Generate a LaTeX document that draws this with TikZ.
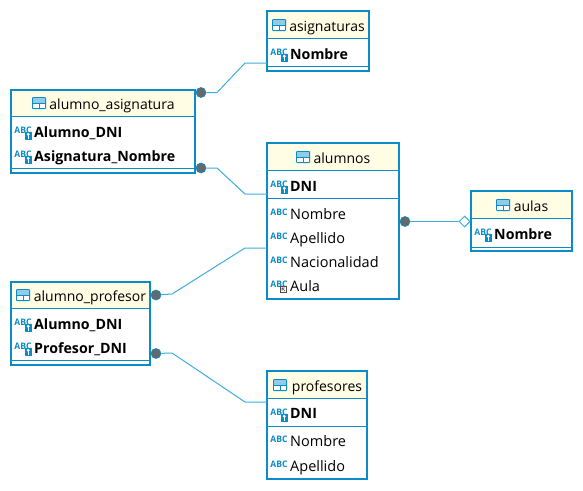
\documentclass[tikz,border=0pt]{standalone}
\usepackage{fontspec}
\setmainfont{Open Sans}
\usetikzlibrary{positioning,shapes.geometric}
\definecolor{tableblue}{HTML}{0A8CC8}
\definecolor{linkblue}{HTML}{3FACE0}
\definecolor{headyellow}{HTML}{FFFDE4}
\definecolor{dotgray}{HTML}{62696F}

\tikzset{
    tablebox/.style={draw=tableblue, line width=2pt, fill=white, inner sep=0pt, outer sep=0pt, anchor=north west},
    headbox/.style={fill=headyellow, inner sep=0pt, outer sep=0pt, anchor=north west},
    sepline/.style={draw=tableblue, line width=1pt},
    titletext/.style={inner sep=0pt, anchor=base, yshift=-5pt, text=black, font=\fontsize{14}{16}\selectfont},
    rowtext/.style={inner sep=0pt, anchor=base west, yshift=-5pt, text=black, font=\fontsize{14.5}{16}\selectfont},
    pkrow/.style={rowtext, font=\fontsize{14.2}{16}\selectfont\bfseries, text=black},
    abctext/.style={inner sep=0pt, text=tableblue, xscale=0.95, transform shape, font=\fontsize{9}{10}\selectfont\bfseries},
    linkdot/.style={circle, fill=dotgray, draw=tableblue, line width=0.6pt, minimum size=10pt, inner sep=0pt},
    linkdiamond/.style={diamond, draw=linkblue, fill=white, line width=1pt, minimum size=11pt, inner sep=0pt},
    link/.style={draw=linkblue, line width=1pt},
    pics/tableicon/.style={code={
        \fill[tableblue, rounded corners=1pt] (0,-6) rectangle (14,6);
        \fill[white] (1,0.5) rectangle (6.6,5);
        \fill[white] (7.6,0.5) rectangle (13,5);
        \fill[tableblue!45] (1,-5) rectangle (13,-0.5);
    }},
    pics/abcicon/.style={code={
        \node[abctext] at (8,-1.5) {ABC};
    }},
    pics/keyicon/.style={code={
        \node[abctext] at (8,-1.5) {ABC};
        \fill[tableblue] (10,0) rectangle (16.5,8);
        \fill[white] (13.2,2.3) circle (1.6pt);
        \fill[white] (12.7,3) rectangle (13.7,6.5);
    }},
    pics/fkicon/.style={code={
        \node[abctext] at (8,-1.5) {ABC};
        \fill[white] (9,0) rectangle (16,7);
        \draw[black!70, line width=0.7pt] (9.5,0.5) rectangle (15.5,6.5);
        \draw[black!70, line width=0.7pt] (14,5) -- (11,2) (11,4.5) -- (11,2) -- (13.5,2);
    }}
}

\begin{document}
\begin{tikzpicture}[x=1pt, y=-1pt]
    \useasboundingbox (0,0) rectangle (583,490);

    % Tables
    \node[tablebox, minimum width=102pt, minimum height=60pt] (asignaturas) at (267,11) {};
    \node[headbox, minimum width=100pt, minimum height=26pt] (asignaturashead) at (268,12) {};
    \draw[sepline] (267,38) -- (369,38);
    \draw[sepline] (267,66) -- (369,66);
    \node[titletext] (asignaturastitle) at (327,26) {asignaturas};
    \pic at (272,25) {tableicon};
    \pic at (271,54) {keyicon};
    \node[pkrow] (asignaturasnombre) at (290,54) {Nombre};

    \node[tablebox, minimum width=184pt, minimum height=83pt] (alumnoasignatura) at (11,90) {};
    \node[headbox, minimum width=182pt, minimum height=25pt] (alumnoasignaturahead) at (12,91) {};
    \draw[sepline] (11,116) -- (195,116);
    \draw[sepline] (11,168) -- (195,168);
    \node[titletext] (alumnoasignaturatitle) at (112,104) {alumno\_asignatura};
    \pic at (32,103) {tableicon};
    \pic at (15,132) {keyicon};
    \node[pkrow] (aadni) at (34,132) {Alumno\_DNI};
    \pic at (15,156) {keyicon};
    \node[pkrow] (aanombre) at (34,156) {Asignatura\_Nombre};

    \node[tablebox, minimum width=132pt, minimum height=156pt] (alumnos) at (267,143) {};
    \node[headbox, minimum width=130pt, minimum height=26pt] (alumnoshead) at (268,144) {};
    \draw[sepline] (267,170) -- (399,170);
    \draw[sepline] (267,198) -- (399,198);
    \node[titletext] (alumnostitle) at (342,158) {alumnos};
    \pic at (296,157) {tableicon};
    \pic at (271,186) {keyicon};
    \node[pkrow] (alumnosdni) at (290,186) {DNI};
    \pic at (271,214) {abcicon};
    \node[rowtext] (alumnosnombre) at (290,214) {Nombre};
    \pic at (271,238) {abcicon};
    \node[rowtext] (alumnosapellido) at (290,238) {Apellido};
    \pic at (271,262) {abcicon};
    \node[rowtext] (alumnosnacionalidad) at (290,262) {Nacionalidad};
    \pic at (271,286) {fkicon};
    \node[rowtext] (alumnosaula) at (290,286) {Aula};

    \node[tablebox, minimum width=101pt, minimum height=60pt] (aulas) at (471,191) {};
    \node[headbox, minimum width=99pt, minimum height=26pt] (aulashead) at (472,192) {};
    \draw[sepline] (471,218) -- (572,218);
    \draw[sepline] (471,247) -- (572,247);
    \node[titletext] (aulastitle) at (531,206) {aulas};
    \pic at (496,205) {tableicon};
    \pic at (475,234) {keyicon};
    \node[pkrow] (aulasnombre) at (494,234) {Nombre};

    \node[tablebox, minimum width=139pt, minimum height=83pt] (alumnoprofesor) at (11,282) {};
    \node[headbox, minimum width=137pt, minimum height=25pt] (alumnoprofesorhead) at (12,283) {};
    \draw[sepline] (11,308) -- (150,308);
    \draw[sepline] (11,360) -- (150,360);
    \node[titletext] (alumnoprofesortitle) at (90,296) {alumno\_profesor};
    \pic at (16,295) {tableicon};
    \pic at (15,324) {keyicon};
    \node[pkrow] (apdni) at (34,324) {Alumno\_DNI};
    \pic at (15,348) {keyicon};
    \node[pkrow] (approfesor) at (34,348) {Profesor\_DNI};

    \node[tablebox, minimum width=100pt, minimum height=108pt] (profesores) at (267,371) {};
    \node[headbox, minimum width=98pt, minimum height=26pt] (profesoreshead) at (268,372) {};
    \draw[sepline] (267,398) -- (367,398);
    \draw[sepline] (267,426) -- (367,426);
    \node[titletext] (profesorestitle) at (327,386) {profesores};
    \pic at (273,385) {tableicon};
    \pic at (271,414) {keyicon};
    \node[pkrow] (profesoresdni) at (290,413) {DNI};
    \pic at (271,441) {abcicon};
    \node[rowtext] (profesoresnombre) at (290,441) {Nombre};
    \pic at (271,466) {abcicon};
    \node[rowtext] (profesoresapellido) at (290,466) {Apellido};

    % Ends of the links
    \node[linkdot] (dotasignaturas) at (201,92.5) {};
    \node[linkdot] (dotalumnos) at (201,168) {};
    \node[linkdot] (dotaulas) at (405,221.5) {};
    \node[linkdiamond] (diamondaulas) at (464.5,221.5) {};
    \node[linkdot] (dotalumnoprofesor) at (156,295) {};
    \node[linkdot] (dotprofesores) at (156,353.5) {};
    \coordinate (asignaturasend) at (asignaturas.west |- 0,63);
    \coordinate (alumnosendtop) at (alumnos.west |- 0,194);
    \coordinate (alumnosendlow) at (alumnos.west |- 0,248);
    \coordinate (profesoresend) at (profesores.west |- 0,402);

    % Edges
    \draw[link] (dotasignaturas) -- (217,92.5) -- (245,63) -- (asignaturasend);
    \draw[link] (dotalumnos) -- (217,168) -- (245,194) -- (alumnosendtop);
    \draw[link] (dotaulas) -- (diamondaulas);
    \draw[link] (dotalumnoprofesor) -- (172,294) -- (245,248) -- (alumnosendlow);
    \draw[link] (dotprofesores) -- (172,353) -- (245,402) -- (profesoresend);
\end{tikzpicture}
\end{document}
